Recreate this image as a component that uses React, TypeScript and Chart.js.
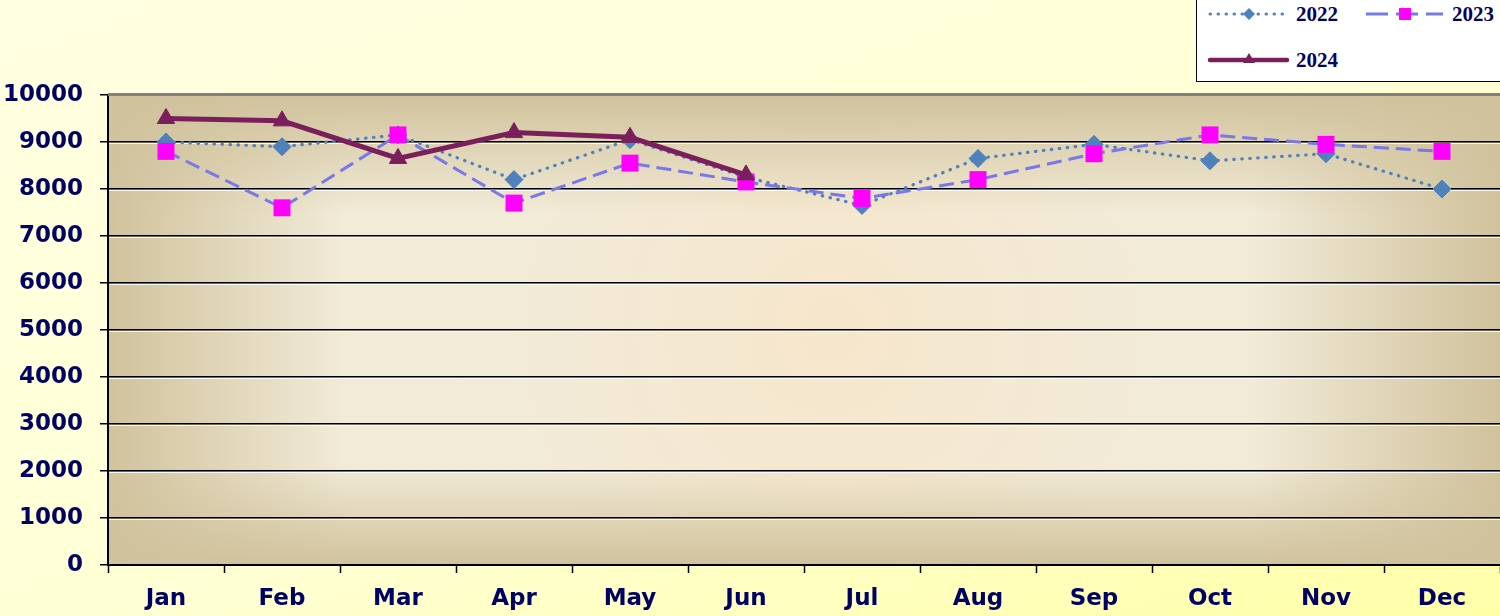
import React, { useEffect, useRef } from "react";
import { Chart, registerables } from "chart.js";

Chart.register(...registerables);

const months = ["Jan", "Feb", "Mar", "Apr", "May", "Jun", "Jul", "Aug", "Sep", "Oct", "Nov", "Dec"];
const yTickValues = [0, 1000, 2000, 3000, 4000, 5000, 6000, 7000, 8000, 9000, 10000];
const series2022 = [9000, 8900, 9150, 8200, 9050, 8250, 7650, 8650, 8950, 8600, 8750, 8000];
const series2023 = [8800, 7600, 9150, 7700, 8550, 8150, 7800, 8200, 8750, 9150, 8950, 8800];
const series2024 = [9500, 9450, 8650, 9200, 9100, 8300, null, null, null, null, null, null];
const seriesLabels = ["2022", "2023", "2024"];

const C2022 = "#4F81BD";
const C2023 = "#7878E8";
const C2023M = "#FF00FF";
const C2024 = "#7A1F5C";
const TEXT = "#000066";

const plotBg = {
  id: "plotBg",
  beforeDraw(chart: any) {
    const { ctx, chartArea: a } = chart;
    const w = a.right - a.left;
    const h = a.bottom - a.top;
    ctx.save();
    ctx.fillStyle = "#F2EBD8";
    ctx.fillRect(a.left, a.top, w, h);
    const cx = a.left + w * 0.52;
    const cy = a.top + h * 0.5;
    const rg = ctx.createRadialGradient(cx, cy, 0, cx, cy, 320);
    rg.addColorStop(0, "rgba(250,225,190,0.5)");
    rg.addColorStop(1, "rgba(250,225,190,0)");
    ctx.fillStyle = rg;
    ctx.fillRect(a.left, a.top, w, h);
    const edge = "rgba(208,194,156,1)";
    const edge0 = "rgba(208,194,156,0)";
    let g = ctx.createLinearGradient(a.left, 0, a.left + 240, 0);
    g.addColorStop(0, edge);
    g.addColorStop(1, edge0);
    ctx.fillStyle = g;
    ctx.fillRect(a.left, a.top, w, h);
    g = ctx.createLinearGradient(a.right, 0, a.right - 250, 0);
    g.addColorStop(0, edge);
    g.addColorStop(1, edge0);
    ctx.fillStyle = g;
    ctx.fillRect(a.left, a.top, w, h);
    g = ctx.createLinearGradient(0, a.top, 0, a.top + 120);
    g.addColorStop(0, edge);
    g.addColorStop(1, edge0);
    ctx.fillStyle = g;
    ctx.fillRect(a.left, a.top, w, h);
    g = ctx.createLinearGradient(0, a.bottom, 0, a.bottom - 100);
    g.addColorStop(0, edge);
    g.addColorStop(1, edge0);
    ctx.fillStyle = g;
    ctx.fillRect(a.left, a.top, w, h);
    ctx.restore();
  },
  beforeDatasetsDraw(chart: any) {
    const { ctx, chartArea: a, scales } = chart;
    const ys = scales.y;
    ctx.save();
    ctx.strokeStyle = "rgba(255,255,255,0.85)";
    ctx.lineWidth = 1;
    ys.ticks.forEach((t: any) => {
      if (t.value <= 0 || t.value >= 10000) return;
      const y = Math.round(ys.getPixelForValue(t.value)) + 1.5;
      ctx.beginPath();
      ctx.moveTo(a.left + 1, y);
      ctx.lineTo(a.right, y);
      ctx.stroke();
    });
    ctx.fillStyle = "#7F7F7F";
    ctx.fillRect(a.left, a.top - 2, a.right - a.left, 3);
    ctx.restore();
  },
};

function Legend() {
  const txt: React.CSSProperties = {
    position: "absolute",
    fontFamily: "'Liberation Serif', 'Times New Roman', serif",
    fontWeight: "bold",
    fontSize: 21,
    color: TEXT,
    lineHeight: "21px",
  };
  return (
    <div
      style={{
        position: "absolute",
        left: 1196,
        top: -1,
        width: 310,
        height: 83,
        background: "#FFFFFF",
        border: "1px solid #000",
        boxSizing: "border-box",
      }}
    >
      <svg width={310} height={83} style={{ position: "absolute", left: -1, top: -1 }}>
        <line x1={14} y1={15} x2={90} y2={15} stroke={C2022} strokeWidth={3} strokeDasharray="0.5 7.5" strokeLinecap="round" />
        <polygon points="53,9 59,15 53,21 47,15" fill={C2022} />
        <line x1={170} y1={15} x2={247} y2={15} stroke={C2023} strokeWidth={3} strokeDasharray="22 8" />
        <rect x={203} y={9} width={12} height={12} fill={C2023M} />
        <line x1={14} y1={61} x2={91} y2={61} stroke={C2024} strokeWidth={4.5} strokeLinecap="round" />
        <polygon points="53,54 59,64 47,64" fill={C2024} />
      </svg>
      <div style={{ ...txt, left: 99, top: 4 }}>{seriesLabels[0]}</div>
      <div style={{ ...txt, left: 255, top: 4 }}>{seriesLabels[1]}</div>
      <div style={{ ...txt, left: 99, top: 50 }}>{seriesLabels[2]}</div>
    </div>
  );
}

export default function App() {
  const ref = useRef<HTMLCanvasElement | null>(null);

  useEffect(() => {
    if (!ref.current) return;
    const tickFont = { family: "'DejaVu Sans', Verdana, sans-serif", size: 23, weight: "bold" as const };
    const chart = new Chart(ref.current, {
      type: "line",
      data: {
        labels: months,
        datasets: [
          {
            label: seriesLabels[0],
            data: series2022,
            borderColor: C2022,
            backgroundColor: C2022,
            borderWidth: 3.2,
            borderDash: [0.5, 7.5],
            borderCapStyle: "round",
            pointStyle: "rectRot",
            pointRadius: 9,
            pointBorderWidth: 1,
            pointBorderColor: C2022,
            pointBackgroundColor: C2022,
            tension: 0,
            order: 3,
          },
          {
            label: seriesLabels[1],
            data: series2023,
            borderColor: C2023,
            backgroundColor: C2023M,
            borderWidth: 3,
            borderDash: [15, 7],
            pointStyle: "rect",
            pointRadius: 12,
            pointBorderWidth: 0,
            pointBorderColor: C2023M,
            pointBackgroundColor: C2023M,
            tension: 0,
            order: 2,
          },
          {
            label: seriesLabels[2],
            data: series2024,
            borderColor: C2024,
            backgroundColor: C2024,
            borderWidth: 5,
            pointStyle: "triangle",
            pointRadius: 10,
            pointBorderWidth: 1,
            pointBorderColor: C2024,
            pointBackgroundColor: C2024,
            tension: 0,
            spanGaps: false,
            order: 1,
          },
        ],
      },
      options: {
        responsive: false,
        animation: false,
        events: [],
        layout: { autoPadding: false, padding: { top: 95, left: 0, right: 0, bottom: 0 } },
        plugins: {
          legend: { display: false },
          tooltip: { enabled: false },
        },
        scales: {
          x: {
            offset: true,
            grid: {
              offset: true,
              drawOnChartArea: false,
              drawTicks: true,
              tickLength: 8,
              tickColor: "#000",
              tickWidth: 1.5,
            },
            border: { color: "#000", width: 2 },
            ticks: { font: tickFont, color: TEXT, padding: 12, maxRotation: 0, autoSkip: false },
            afterFit: (s: any) => {
              s.height = 51;
              s.paddingLeft = 0;
              s.paddingRight = 0;
            },
          },
          y: {
            min: 0,
            max: 10000,
            afterBuildTicks: (s: any) => {
              s.ticks = yTickValues.map((v) => ({ value: v }));
            },
            grid: {
              color: (c: any) => (c.tick && c.tick.value === 10000 ? "rgba(0,0,0,0)" : "#000"),
              lineWidth: 1.5,
              tickLength: 8,
              tickColor: "#000",
              tickWidth: 1.5,
            },
            border: { color: "#000", width: 2 },
            ticks: {
              font: tickFont,
              color: TEXT,
              padding: 17,
              callback: (v: any) => String(v),
            },
            afterFit: (s: any) => {
              s.width = 108;
              s.paddingTop = 0;
              s.paddingBottom = 0;
            },
          },
        },
      },
      plugins: [plotBg],
    });
    return () => chart.destroy();
  }, []);

  return (
    <div
      style={{
        position: "absolute",
        left: 0,
        top: 0,
        width: 1500,
        height: 616,
        overflow: "hidden",
        background: "linear-gradient(160deg, #FFFFE2 0%, #FFFFD6 55%, #FFFFA8 100%)",
      }}
    >
      <canvas ref={ref} width={1500} height={616} style={{ position: "absolute", left: 0, top: 0 }} />
      <Legend />
    </div>
  );
}
